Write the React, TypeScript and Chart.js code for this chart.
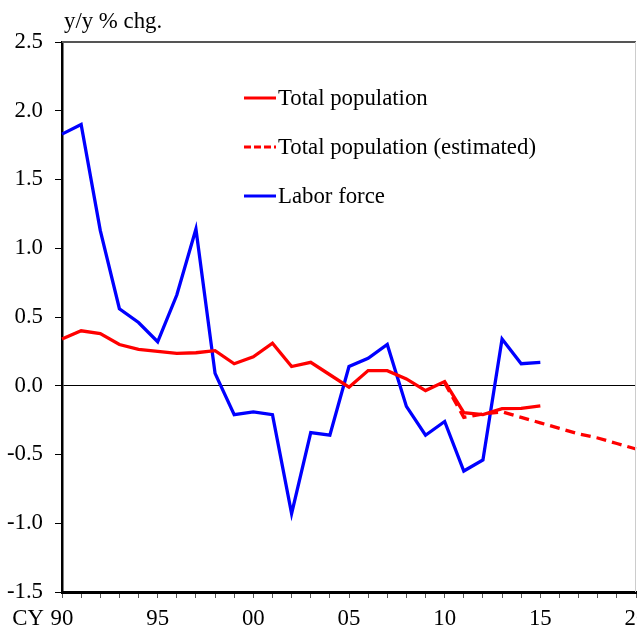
import React, { useEffect, useRef } from "react";
import { Chart, registerables } from "chart.js";

Chart.register(...registerables);

const years: string[] = [
  "1990","1991","1992","1993","1994","1995","1996","1997","1998","1999",
  "2000","2001","2002","2003","2004","2005","2006","2007","2008","2009",
  "2010","2011","2012","2013","2014","2015","2016","2017","2018","2019","2020",
];

const totalPopulation: (number | null)[] = [
  0.34, 0.40, 0.38, 0.30, 0.265, 0.25, 0.235, 0.24, 0.255, 0.16,
  0.21, 0.31, 0.14, 0.17, 0.08, -0.01, 0.11, 0.11, 0.05, -0.035,
  0.03, -0.196, -0.21, -0.167, -0.165, -0.147,
  null, null, null, null, null,
];

const totalPopulationEstimated: (number | null)[] = [
  null, null, null, null, null, null, null, null, null, null,
  null, null, null, null, null, null, null, null, null, null,
  0.02, -0.23, -0.205, -0.19, -0.23, -0.27, -0.31, -0.35, -0.38, -0.42, -0.46,
];

const laborForce: (number | null)[] = [
  1.83, 1.90, 1.13, 0.56, 0.46, 0.32, 0.66, 1.14, 0.09, -0.21,
  -0.19, -0.21, -0.93, -0.34, -0.36, 0.14, 0.20, 0.30, -0.15, -0.36,
  -0.26, -0.62, -0.54, 0.34, 0.16, 0.17,
  null, null, null, null, null,
];

const yTicks = { min: -1.5, max: 2.5, step: 0.5 };
const unitLabel = "y/y % chg.";
const xPrefix = "CY";
const legendItems = [
  { text: "Total population", color: "#ff0000", dash: [] as number[] },
  { text: "Total population (estimated)", color: "#ff0000", dash: [7, 3] },
  { text: "Labor force", color: "#0000ff", dash: [] as number[] },
];

const FONT = '"Liberation Serif", "Times New Roman", serif';
const FS = 22.8;

export default function App() {
  const ref = useRef<HTMLCanvasElement | null>(null);

  useEffect(() => {
    if (!ref.current) return;
    const overlay = {
      id: "overlay",
      afterDraw(chart: any) {
        const { ctx, chartArea } = chart;
        ctx.save();
        // top border
        ctx.strokeStyle = "#555";
        ctx.lineWidth = 2;
        ctx.beginPath();
        ctx.moveTo(chartArea.left, chartArea.top);
        ctx.lineTo(chartArea.right, chartArea.top);
        ctx.stroke();
        // right border
        ctx.strokeStyle = "#ccc";
        ctx.lineWidth = 1;
        ctx.beginPath();
        ctx.moveTo(chartArea.right - 0.5, chartArea.top);
        ctx.lineTo(chartArea.right - 0.5, chartArea.bottom);
        ctx.stroke();
        // unit label
        ctx.fillStyle = "#000";
        ctx.font = `${FS}px ${FONT}`;
        ctx.textAlign = "left";
        ctx.textBaseline = "alphabetic";
        ctx.fillText(unitLabel, 64, 28);
        // CY prefix
        ctx.textAlign = "right";
        ctx.fillText(xPrefix, 44, 625);
        // legend
        const lx = 244;
        const rows = [98, 147, 196];
        legendItems.forEach((it, i) => {
          const y = rows[i];
          ctx.strokeStyle = it.color;
          ctx.lineWidth = 3;
          ctx.setLineDash(it.dash);
          ctx.beginPath();
          ctx.moveTo(lx, y);
          ctx.lineTo(lx + 32, y);
          ctx.stroke();
          ctx.setLineDash([]);
          ctx.fillStyle = "#000";
          ctx.font = `${FS}px ${FONT}`;
          ctx.textAlign = "left";
          ctx.textBaseline = "middle";
          ctx.fillText(it.text, lx + 34, y + 1);
        });
        ctx.restore();
      },
    };

    const chart = new Chart(ref.current, {
      type: "line",
      data: {
        labels: years,
        datasets: [
          {
            label: "Total population",
            data: totalPopulation,
            borderColor: "#ff0000",
            borderWidth: 3.3,
            pointRadius: 0,
            spanGaps: false,
          },
          {
            label: "Total population (estimated)",
            data: totalPopulationEstimated,
            borderColor: "#ff0000",
            borderWidth: 3.3,
            borderDash: [10, 6],
            pointRadius: 0,
          },
          {
            label: "Labor force",
            data: laborForce,
            borderColor: "#0000ff",
            borderWidth: 3.3,
            pointRadius: 0,
          },
        ],
      },
      options: {
        responsive: false,
        animation: false,
        events: [],
        layout: { padding: { top: 42, right: 1, left: 0, bottom: 0 } },
        plugins: {
          legend: { display: false },
          tooltip: { enabled: false },
          title: { display: false },
        },
        scales: {
          x: {
            type: "category",
            offset: false,
            border: { color: "#000", width: 3 },
            grid: {
              display: true,
              drawOnChartArea: false,
              drawTicks: true,
              tickLength: 6,
              tickColor: "#555",
            },
            ticks: {
              autoSkip: false,
              maxRotation: 0,
              minRotation: 0,
              padding: 7,
              color: "#000",
              font: { family: FONT, size: FS },
              callback: (_v: any, i: number) => {
                const y = parseInt(years[i], 10);
                return y % 5 === 0 ? String(y).slice(2) : "";
              },
            },
            afterFit: (s: any) => {
              s.height = 36;
              s.paddingLeft = 0;
              s.paddingRight = 0;
            },
          },
          y: {
            min: yTicks.min,
            max: yTicks.max,
            border: { color: "#000", width: 2.5 },
            grid: {
              drawTicks: true,
              tickLength: 7,
              tickColor: "#000",
              lineWidth: 1,
              color: (c: any) => (c.tick && c.tick.value === 0 ? "#000" : "rgba(0,0,0,0)"),
            },
            ticks: {
              stepSize: yTicks.step,
              padding: 12,
              color: "#000",
              font: { family: FONT, size: FS },
              callback: (v: any) => Number(v).toFixed(1),
            },
            afterFit: (s: any) => {
              s.width = 62;
              s.paddingTop = 0;
              s.paddingBottom = 0;
            },
          },
        },
      },
      plugins: [overlay],
    } as any);
    return () => chart.destroy();
  }, []);

  return (
    <div style={{ position: "fixed", left: 0, top: 0, width: 637, height: 628, overflow: "hidden", background: "#fff" }}>
      <canvas ref={ref} width={637} height={628} style={{ display: "block" }} />
    </div>
  );
}
